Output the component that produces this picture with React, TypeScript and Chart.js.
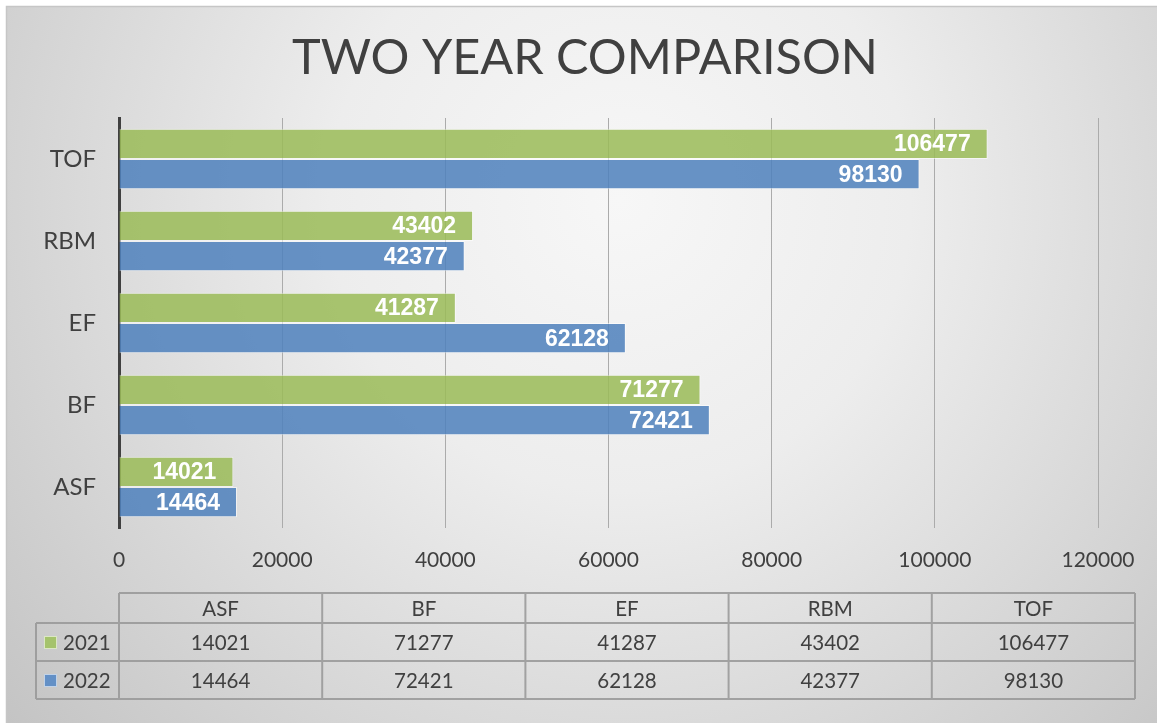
import React, { useEffect, useRef } from 'react';
import { Chart, registerables } from 'chart.js';

Chart.register(...registerables);

const categories = ['ASF', 'BF', 'EF', 'RBM', 'TOF'];
const seriesNames = ['2021', '2022'];
const values2021 = [14021, 71277, 41287, 43402, 106477];
const values2022 = [14464, 72421, 62128, 42377, 98130];
const xMin = 0;
const xMax = 120000;
const xStep = 20000;
const titleText = 'TWO YEAR COMPARISON';

const FONT = 'Lato, "Open Sans", sans-serif';
const TEXT = '#404040';
const fill2021 = 'rgba(155,187,89,0.86)';
const fill2022 = 'rgba(79,129,189,0.86)';
const solid2021 = '#a5c36c';
const solid2022 = '#6390c6';

const backgroundPlugin = {
  id: 'bgFrame',
  beforeDraw(chart: any) {
    const { ctx, width, height } = chart;
    ctx.save();
    ctx.fillStyle = '#ffffff';
    ctx.fillRect(0, 0, width, height);
    const g = ctx.createRadialGradient(620, 200, 0, 620, 200, 830);
    g.addColorStop(0, '#f7f7f7');
    g.addColorStop(0.35, '#ededed');
    g.addColorStop(1, '#c2c2c2');
    ctx.fillStyle = g;
    ctx.fillRect(6, 6, width - 6, height - 8);
    ctx.strokeStyle = '#c6c6c6';
    ctx.lineWidth = 1.5;
    ctx.beginPath();
    ctx.moveTo(6.5, height - 2);
    ctx.lineTo(6.5, 6.5);
    ctx.lineTo(width, 6.5);
    ctx.stroke();
    ctx.restore();
  },
};

const titlePlugin = {
  id: 'bigTitle',
  afterDraw(chart: any) {
    const { ctx } = chart;
    ctx.save();
    ctx.font = `48.6px ${FONT}`;
    ctx.fillStyle = TEXT;
    ctx.textAlign = 'center';
    ctx.textBaseline = 'alphabetic';
    ctx.fillText(titleText, 585, 74);
    ctx.restore();
  },
};

const labelPlugin = {
  id: 'barLabels',
  afterDatasetsDraw(chart: any) {
    const { ctx } = chart;
    ctx.save();
    ctx.font = 'bold 23px "Liberation Sans", Arial, sans-serif';
    ctx.fillStyle = '#ffffff';
    ctx.textAlign = 'right';
    ctx.textBaseline = 'middle';
    chart.data.datasets.forEach((ds: any, di: number) => {
      const meta = chart.getDatasetMeta(di);
      meta.data.forEach((bar: any, i: number) => {
        ctx.fillText(String(ds.data[i]), bar.x - 17, bar.y + 1);
      });
    });
    ctx.restore();
  },
};

const tablePlugin = {
  id: 'dataTable',
  afterDraw(chart: any) {
    const { ctx } = chart;
    const left = 119;
    const right = 1135;
    const legendLeft = 36;
    const headTop = 593;
    const headBottom = 623;
    const rowH = 38;
    const n = chart.data.labels.length;
    const colW = (right - left) / n;
    const rows = chart.data.datasets.length;
    const bottom = headBottom + rowH * rows;
    ctx.save();
    ctx.strokeStyle = 'rgba(150,150,150,0.85)';
    ctx.lineWidth = 2;
    ctx.beginPath();
    ctx.moveTo(left, headTop);
    ctx.lineTo(right, headTop);
    for (let r = 0; r <= rows; r++) {
      const y = headBottom + r * rowH;
      ctx.moveTo(legendLeft, y);
      ctx.lineTo(right, y);
    }
    ctx.moveTo(legendLeft, headBottom);
    ctx.lineTo(legendLeft, bottom);
    for (let c = 0; c <= n; c++) {
      const x = left + c * colW;
      ctx.moveTo(x, headTop);
      ctx.lineTo(x, bottom);
    }
    ctx.stroke();

    ctx.font = `20.5px ${FONT}`;
    ctx.fillStyle = TEXT;
    ctx.textAlign = 'center';
    ctx.textBaseline = 'middle';
    chart.data.labels.forEach((lab: string, c: number) => {
      ctx.fillText(lab, left + colW * (c + 0.5), (headTop + headBottom) / 2 + 1);
    });
    chart.data.datasets.forEach((ds: any, r: number) => {
      const cy = headBottom + rowH * (r + 0.5) + 1;
      ds.data.forEach((v: number, c: number) => {
        ctx.fillStyle = TEXT;
        ctx.textAlign = 'center';
        ctx.fillText(String(v), left + colW * (c + 0.5), cy);
      });
      ctx.fillStyle = ds.legendColor;
      ctx.fillRect(44, cy - 7, 13, 13);
      ctx.strokeStyle = 'rgba(255,255,255,0.6)';
      ctx.lineWidth = 1;
      ctx.strokeRect(44.5, cy - 6.5, 12, 12);
      ctx.fillStyle = TEXT;
      ctx.textAlign = 'left';
      ctx.fillText(ds.label, 63, cy);
    });
    ctx.restore();
  },
};

export default function App() {
  const ref = useRef<HTMLCanvasElement | null>(null);
  useEffect(() => {
    document.body.style.margin = '0';
    if (!ref.current) return;
    const chart = new Chart(ref.current, {
      type: 'bar',
      data: {
        labels: categories,
        datasets: [
          {
            label: seriesNames[0],
            data: values2021,
            backgroundColor: fill2021,
            borderColor: 'rgba(255,255,255,0.55)',
            borderWidth: 1,
            legendColor: solid2021,
          } as any,
          {
            label: seriesNames[1],
            data: values2022,
            backgroundColor: fill2022,
            borderColor: 'rgba(255,255,255,0.55)',
            borderWidth: 1,
            legendColor: solid2022,
          } as any,
        ],
      },
      options: {
        indexAxis: 'y',
        responsive: false,
        animation: false,
        events: [],
        layout: { padding: { left: 0, right: 59, top: 118, bottom: 0 } },
        datasets: { bar: { categoryPercentage: 0.74, barPercentage: 1 } },
        plugins: {
          legend: { display: false },
          title: { display: false },
          tooltip: { enabled: false },
        },
        scales: {
          x: {
            min: xMin,
            max: xMax,
            ticks: {
              stepSize: xStep,
              color: TEXT,
              font: { family: FONT, size: 21 },
              padding: 20,
              maxRotation: 0,
              callback: (v: any) => String(v),
            },
            grid: { color: '#ababab', lineWidth: 1, drawTicks: false },
            border: { display: false },
            afterFit: (s: any) => {
              s.height = 725 - 528;
            },
          },
          y: {
            reverse: true,
            ticks: {
              color: TEXT,
              font: { family: FONT, size: 24 },
              padding: 23,
            },
            grid: { display: false, drawTicks: false },
            border: { display: true, color: '#404040', width: 3 },
            afterFit: (s: any) => {
              s.width = 119;
            },
          },
        },
      },
      plugins: [backgroundPlugin, labelPlugin, tablePlugin, titlePlugin],
    });
    return () => chart.destroy();
  }, []);
  return (
    <div style={{ width: 1157, height: 725 }}>
      <canvas ref={ref} width={1157} height={725} style={{ display: 'block' }} />
    </div>
  );
}
